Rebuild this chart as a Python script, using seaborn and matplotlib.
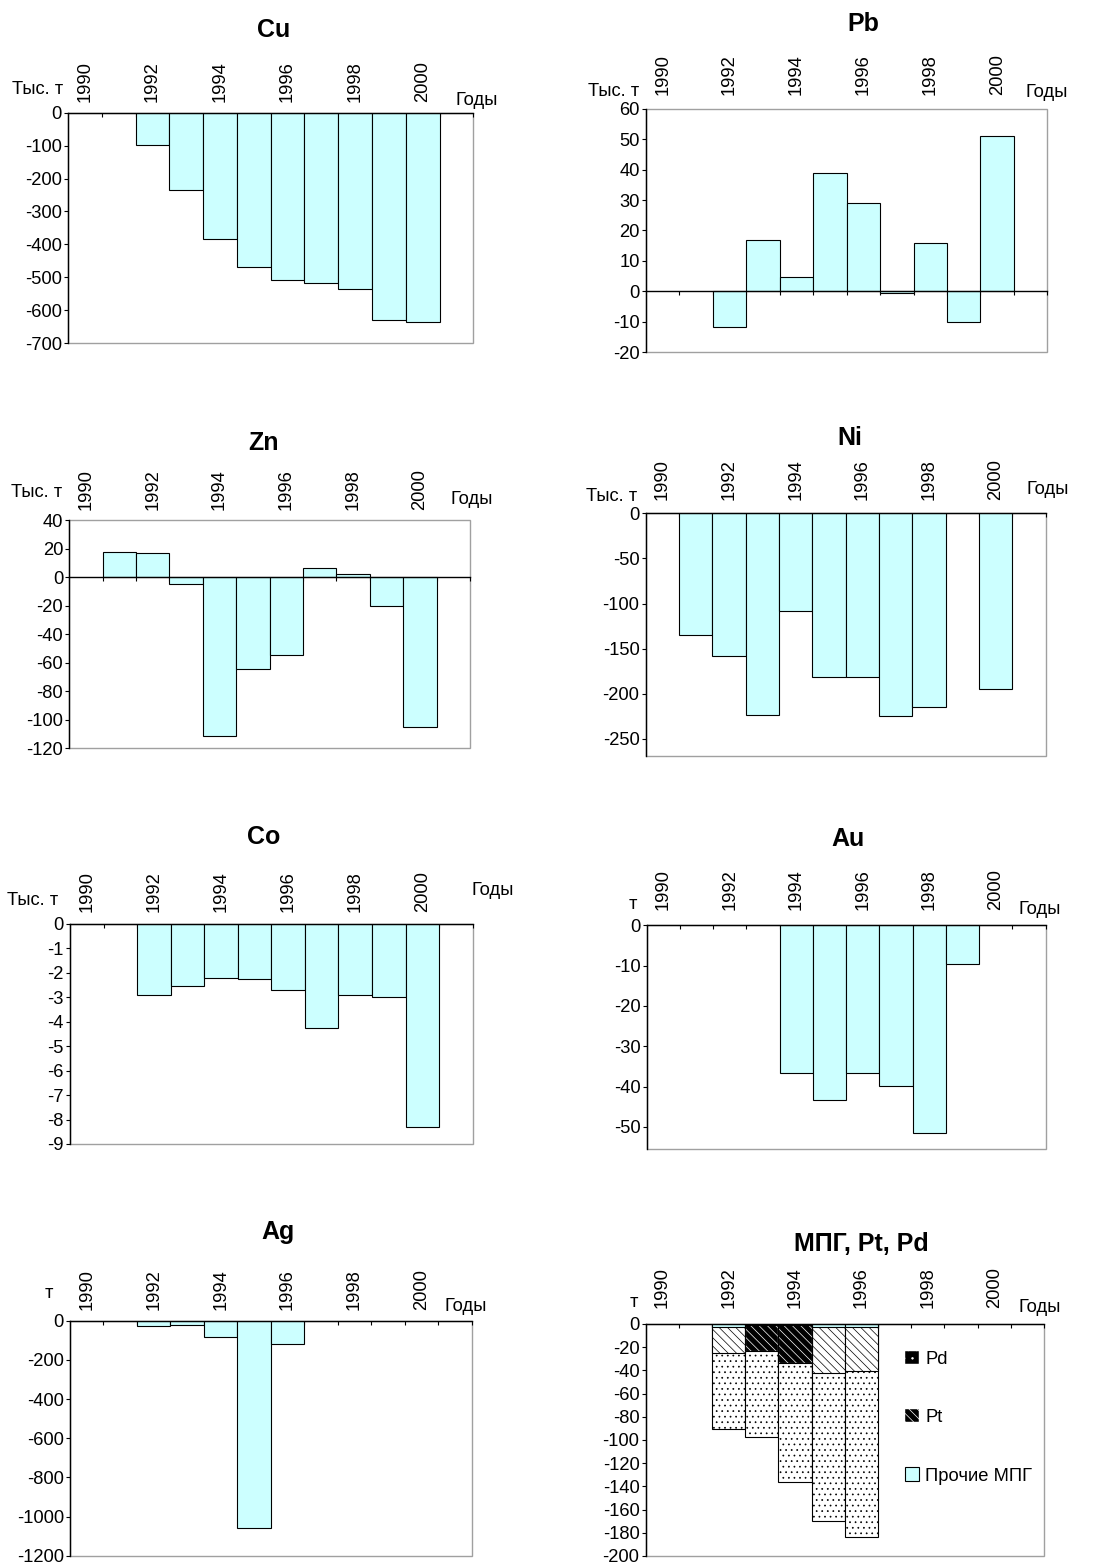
import numpy as np
import pandas as pd
import matplotlib
matplotlib.use("Agg")
import matplotlib.pyplot as plt
from matplotlib.patches import Patch, Rectangle
import seaborn as sns

nan = np.nan

# ---- data: annual balance (deficit) by metal, 1990-2001 -------------------
years = ["1990", "1991", "1992", "1993", "1994", "1995",
         "1996", "1997", "1998", "1999", "2000", "2001"]
label_years = ["1990", "1992", "1994", "1996", "1998", "2000"]

cu = [nan, nan, -97, -234, -385, -470, -510, -518, -537, -630, -636, nan]
pb = [nan, nan, -11.6, 16.8, 4.6, 38.9, 29.0, -0.5, 15.8, -9.9, 51.0, nan]
zn = [nan, 17.9, 17.0, -4.9, -111.5, -64.5, -54.2, 6.7, 2.1, -19.8, -105.0, nan]
ni = [nan, -135, -158, -223.5, -108.6, -181.5, -180.8, -224.3, -215, nan, -194.5, nan]
co = [nan, nan, -2.92, -2.53, -2.19, -2.25, -2.69, -4.24, -2.92, -3.0, -8.32, nan]
au = [nan, nan, nan, nan, -36.6, -43.4, -36.6, -39.9, -51.5, -9.6, nan, nan]
ag = [nan, nan, -27, -22, -85, -1059, -117, nan, nan, nan, nan, nan]

# platinum-group metals, stacked components
pgm_other = [nan, nan, -2.5, -1.2, -1.2, -2.5, -2.5, nan, nan, nan, nan, nan]
pgm_pt = [nan, nan, -22.8, -21.8, -32.1, -39.5, -38.0, nan, nan, nan, nan, nan]
pgm_pd = [nan, nan, -64.9, -74.0, -103.2, -127.5, -143.5, nan, nan, nan, nan, nan]
pgm_labels = ["Pd", "Pt", "Прочие МПГ"]

# ---- style -----------------------------------------------------------------
sns.set_style("white")
plt.rcParams["font.family"] = ["Liberation Sans", "DejaVu Sans"]
plt.rcParams["hatch.linewidth"] = 0.5
for key in ("text.color", "axes.labelcolor", "xtick.color", "ytick.color"):
    plt.rcParams[key] = "black"

W, H = 1106, 1565
PX = 0.72            # points per pixel at 100 dpi
FS = 13.2
BAR = "#CCFFFF"
FRAME = "#a0a0a0"
DARK_PT = ["1993", "1994"]
HATCH_PT = "\\\\\\\\"
HATCH_PD = "..."

fig = plt.figure(figsize=(W / 100, H / 100), dpi=100)


def make_axes(box):
    x0, y0, x1, y1 = box
    return fig.add_axes([x0 / W, 1 - y1 / H, (x1 - x0) / W, (y1 - y0) / H])


def frame_axes(ax, p):
    ax.set_xlim(-0.5, len(years) - 0.5)
    ax.set_ylim(*p["ylim"])
    ax.set_xlabel("")
    ax.set_ylabel("")
    yt = list(p["yticks"])
    ax.set_yticks(yt)
    ax.set_yticklabels([f"{t:g}" for t in yt])
    ax.set_xticks([years.index(y) for y in label_years], label_years)
    ax.set_xticks(np.arange(len(years)) + 0.5, minor=True)
    ax.tick_params(axis="x", which="major", top=False, bottom=False,
                   labeltop=True, labelbottom=False, labelrotation=90,
                   labelsize=FS, pad=p["pad"])
    ax.tick_params(axis="x", which="minor", bottom=True, top=False,
                   direction="out", length=3, width=0.8, color="black")
    ax.tick_params(axis="y", left=True, direction="out", length=3,
                   width=0.8, color="black", labelsize=FS, pad=1.5)
    for s in ("top", "right"):
        ax.spines[s].set_visible(False)
    ax.spines["bottom"].set_position(("data", 0))
    ax.spines["bottom"].set_color("black")
    ax.spines["bottom"].set_linewidth(1.0)
    ax.spines["left"].set_color("black")
    ax.spines["left"].set_linewidth(1.0)
    ax.add_patch(Rectangle((0, 0), 1, 1, transform=ax.transAxes, fill=False,
                           edgecolor=FRAME, linewidth=1.0, clip_on=False,
                           zorder=0.5))
    ax.annotate(p["title"], xy=(0.5, 1), xycoords="axes fraction",
                xytext=(p["title_dx"] * PX, p["title_dy"] * PX),
                textcoords="offset points", ha="center", va="baseline",
                fontsize=18, fontweight="bold")
    ux, uy = p["unit_off"]
    ax.annotate(p["unit"], xy=(0, 1), xycoords="axes fraction",
                xytext=(ux * PX, uy * PX), textcoords="offset points",
                ha="right", va="baseline", fontsize=FS)
    gx, gy = p["years_off"]
    ax.annotate("Годы", xy=(1, 1), xycoords="axes fraction",
                xytext=(gx * PX, gy * PX), textcoords="offset points",
                ha="left", va="baseline", fontsize=FS)


def bars(ax, values, edgecolor="black", **kw):
    df = pd.DataFrame({"year": years, "value": values})
    sns.barplot(data=df, x="year", y="value", order=years, ax=ax, width=1.0,
                errorbar=None, saturation=1, edgecolor=edgecolor,
                linewidth=0.8, **kw)
    return ax.containers[-1]


panels = [
    dict(title="Cu", values=cu, box=(68, 112.7, 473.3, 343), ylim=(-700, 0),
         yticks=range(0, -701, -100), unit="Тыс. т", unit_off=(-4.7, 18.7),
         years_off=(-18, 8), title_dx=2.5, title_dy=75.7, pad=4.5),
    dict(title="Pb", values=pb, box=(646, 108.7, 1047.3, 352.3), ylim=(-20, 60),
         yticks=range(-20, 61, 10), unit="Тыс. т", unit_off=(-6.7, 13),
         years_off=(-22, 11.7), title_dx=16.5, title_dy=77.3, pad=6.5),
    dict(title="Zn", values=zn, box=(69.3, 520.3, 470, 748.3), ylim=(-120, 40),
         yticks=range(-120, 41, 20), unit="Тыс. т", unit_off=(-7.3, 23.3),
         years_off=(-19.3, 16.7), title_dx=-6, title_dy=70, pad=3.8),
    dict(title="Ni", values=ni, box=(645.7, 513.3, 1045.7, 755.7),
         ylim=(-268.5, 0), yticks=range(0, -251, -50), unit="Тыс. т",
         unit_off=(-8.7, 12.3), years_off=(-18.7, 19), title_dx=4,
         title_dy=68, pad=5.8),
    dict(title="Co", values=co, box=(70, 924, 472.7, 1144), ylim=(-9, 0),
         yticks=range(0, -10, -1), unit="Тыс. т", unit_off=(-11.7, 19),
         years_off=(-1.3, 29), title_dx=-8, title_dy=80, pad=5.3),
    dict(title="Au", values=au, box=(646.7, 925.3, 1045.7, 1149),
         ylim=(-55.5, 0), yticks=range(0, -51, -10), unit="т",
         unit_off=(-9.7, 16.7), years_off=(-27.7, 11), title_dx=1.5,
         title_dy=79, pad=7.2),
    dict(title="Ag", values=ag, box=(70, 1320.7, 471.7, 1555.7),
         ylim=(-1200, 0), yticks=range(0, -1201, -200), unit="т",
         unit_off=(-16.7, 22.7), years_off=(-27.7, 10), title_dx=7,
         title_dy=81.7, pad=4.5),
]

for p in panels:
    ax = make_axes(p["box"])
    bars(ax, p["values"], color=BAR)
    frame_axes(ax, p)

# ---- stacked PGM panel --------------------------------------------------------
pgm = dict(title="МПГ, Pt, Pd", box=(645.7, 1324, 1044, 1556), ylim=(-200, 0),
           yticks=range(0, -201, -20), unit="т", unit_off=(-7.7, 17.3),
           years_off=(-25.7, 12.3), title_dx=17, title_dy=73, pad=8)
ax = make_axes(pgm["box"])

other_arr = np.array(pgm_other, dtype=float)
pt_cum = other_arr + np.array(pgm_pt, dtype=float)
pd_cum = pt_cum + np.array(pgm_pd, dtype=float)
dark_mask = np.array([y in DARK_PT for y in years])
pt_light = np.where(dark_mask, nan, pt_cum)
pt_dark = np.where(dark_mask, pt_cum, nan)

# cumulative bars drawn from the outermost segment inwards
bars(ax, pd_cum, color="white", hatch=HATCH_PD)
bars(ax, pt_light, color="white", hatch=HATCH_PT)
dark = bars(ax, pt_dark, color="black", edgecolor="white", hatch=HATCH_PT)
for patch in dark.patches:
    ax.add_patch(Rectangle(patch.get_xy(), patch.get_width(),
                           patch.get_height(), fill=False,
                           edgecolor="black", linewidth=0.8, zorder=1.5))
bars(ax, other_arr, color=BAR)
frame_axes(ax, pgm)

handles = [
    Patch(facecolor="black", edgecolor="white", hatch="..", linewidth=0.3),
    Patch(facecolor="black", edgecolor="white", hatch=HATCH_PT, linewidth=0.3),
    Patch(facecolor=BAR, edgecolor="black", linewidth=0.8),
]
ax.legend(handles, pgm_labels, loc="upper left", bbox_to_anchor=(0.651, 0.885),
          frameon=False, fontsize=FS, borderpad=0, borderaxespad=0,
          labelspacing=2.25, handlelength=0.75, handleheight=0.75,
          handletextpad=0.35)

fig.savefig("out.png", dpi=100)
